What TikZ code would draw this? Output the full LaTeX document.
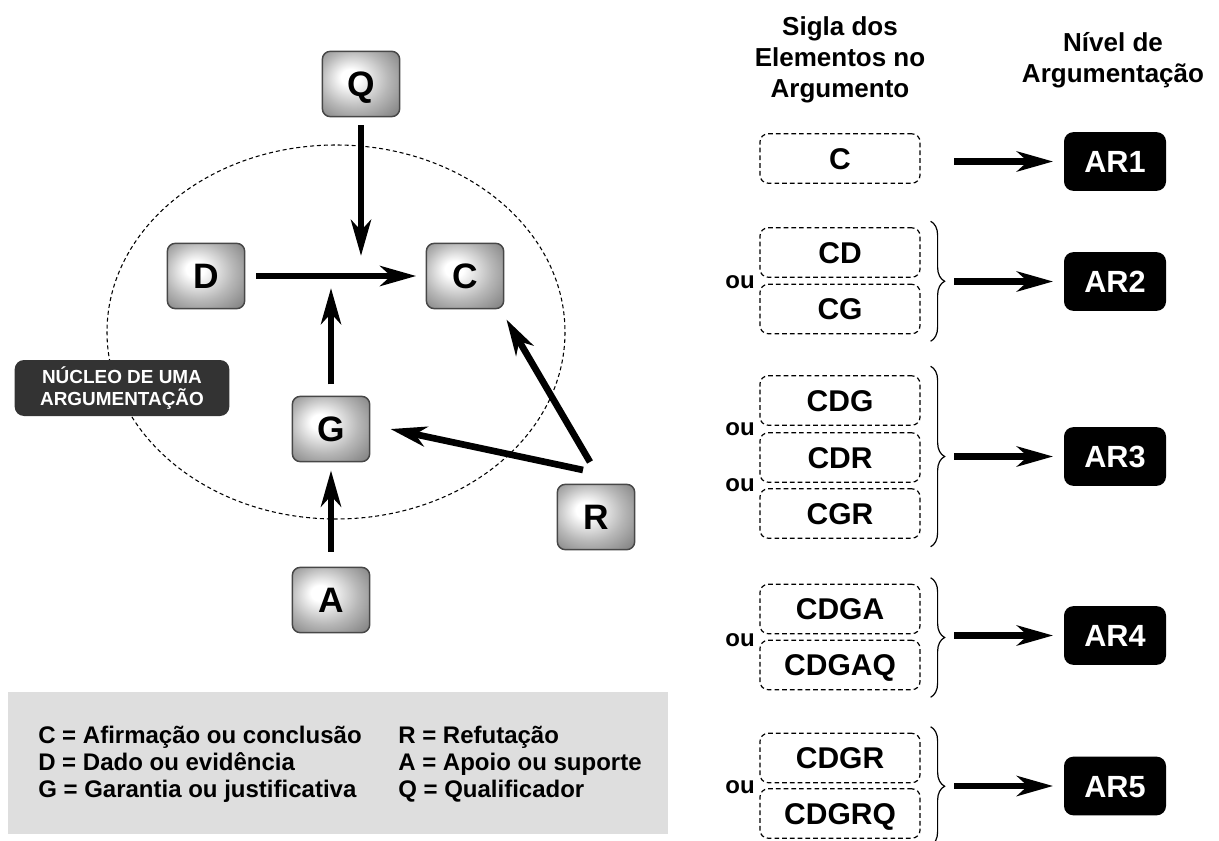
\documentclass[tikz,border=0pt]{standalone}
\usepackage{fontspec}
\setmainfont{Liberation Sans}
\usepackage{tikz}
\usetikzlibrary{arrows.meta,calc,decorations.pathreplacing}
\definecolor{nucleogray}{RGB}{51,51,51}
\definecolor{legendgray}{RGB}{222,222,222}
\pgfdeclareradialshading{botao}{\pgfpoint{-8bp}{6bp}}{color(0bp)=(white); color(6bp)=(white); color(22bp)=(black!28); color(34bp)=(black!46); color(50bp)=(black!68)}
\tikzstyle{elem} = [draw=black!72, line width=1.1pt, rounded corners=6pt, shading=botao, minimum width=58pt, minimum height=49pt, inner sep=0pt, font=\bfseries\fontsize{26.5}{26.5}\selectfont, text height=19pt, text depth=0pt]
\tikzstyle{bigarrow} = [line width=5pt, -{Stealth[length=27pt,width=15pt,inset=8pt]}]
\tikzstyle{rotulo} = [fill=nucleogray, rounded corners=7pt, minimum width=161pt, minimum height=42pt, text=white, align=center, font=\bfseries\fontsize{14.2}{16.5}\selectfont]
\tikzstyle{sigla} = [draw, line width=0.9pt, dash pattern=on 3.5pt off 2.3pt, rounded corners=6pt, minimum width=120pt, minimum height=37pt, inner sep=0pt, font=\bfseries\fontsize{22.5}{22.5}\selectfont, text height=16.1pt, text depth=0pt]
\tikzstyle{nivel} = [fill=black, rounded corners=7pt, minimum width=76.5pt, minimum height=44pt, inner sep=0pt, text=white, font=\bfseries\fontsize{23}{23}\selectfont, text height=16.5pt, text depth=0pt]
\tikzstyle{ou} = [inner sep=0pt, font=\bfseries\fontsize{18}{18}\selectfont, text height=9.4pt, text depth=0pt]
\tikzstyle{chave} = [decorate, decoration={brace, amplitude=10.5pt}, line width=0.9pt]
\tikzstyle{cabec} = [align=center, font=\bfseries\fontsize{19.5}{23.25}\selectfont]
\tikzstyle{legtext} = [anchor=base west, inner sep=0pt, font=\bfseries\fontsize{18}{18}\selectfont]

\begin{document}
\begin{tikzpicture}[x=0.75pt, y=-0.75pt]
\useasboundingbox (0,0) rectangle (1219,841);

% Core of an argument
\draw[line width=0.8pt, dash pattern=on 3pt off 2.2pt] (336,332) ellipse [x radius=229, y radius=187];
\node[rotulo] (nucleo) at (122,388) {NÚCLEO DE UMA\\ARGUMENTAÇÃO};

% Toulmin elements
\node[elem] (q) at (361,84) {Q};
\node[elem] (d) at (206,276) {D};
\node[elem] (c) at (465,276) {C};
\node[elem] (g) at (331,429) {G};
\node[elem] (r) at (596,517) {R};
\node[elem] (a) at (331,600) {A};
\coordinate (qc) at (361,256);
\coordinate (gc) at (331,288);

\draw[bigarrow, shorten <=6pt] (q) -- (qc);
\draw[bigarrow, shorten <=8pt, shorten >=7pt] (d) -- (c);
\draw[bigarrow, shorten <=8.5pt] (g) -- (gc);
\draw[bigarrow, shorten <=11pt, shorten >=6pt] (a) -- (g);
\draw[bigarrow] ([shift={(-13,-47)}]r.center) -- ([shift={(20,0)}]g.east);
\draw[bigarrow] ([shift={(-6,-55)}]r.center) -- ([shift={(2,10)}]c.south east);

% Legend
\node[fill=legendgray, minimum width=495pt, minimum height=106.5pt] (legenda) at (338,763) {};
\foreach \esq/\dir [count=\i] in {C = Afirmação ou conclusão/R = Refutação, D = Dado ou evidência/A = Apoio ou suporte, G = Garantia ou justificativa/Q = Qualificador}
{
  \node[legtext] (le\i) at (38,716.5+27*\i) {\esq};
  \node[legtext] (ld\i) at (398,716.5+27*\i) {\dir};
}

% Headers
\node[cabec] (hsigla) at (840,60) {Sigla dos\\Elementos no\\Argumento};
\node[cabec] (hnivel) at (1113,60) {Nível de\\Argumentação};

% Sets of elements
\node[sigla] (s1) at (840,158.5) {C};
\node[sigla] (s2a) at (840,252.5) {CD};
\node[sigla] (s2b) at (840,309) {CG};
\node[sigla] (s3a) at (840,400.5) {CDG};
\node[sigla] (s3b) at (840,457.5) {CDR};
\node[sigla] (s3c) at (840,513.5) {CGR};
\node[sigla] (s4a) at (840,609) {CDGA};
\node[sigla] (s4b) at (840,665) {CDGAQ};
\node[sigla] (s5a) at (840,758) {CDGR};
\node[sigla] (s5b) at (840,813.5) {CDGRQ};

\foreach \y [count=\k] in {282,429,485,640,787}
  \node[ou] (ou\k) at (740,\y) {ou};

\draw[chave] ($(s2a.north east)+(10,-6)$) -- ($(s2b.south east)+(10,7)$);
\draw[chave] ($(s3a.north east)+(10,-9)$) -- ($(s3c.south east)+(10,8)$);
\draw[chave] ($(s4a.north east)+(10,-6)$) -- ($(s4b.south east)+(10,7)$);
\draw[chave] ($(s5a.north east)+(10,-6)$) -- ($(s5b.south east)+(10,7)$);

% Argumentation levels
\foreach \n/\y in {1/161.5, 2/281.5, 3/456.5, 4/635.5, 5/786}
{
  \node[nivel] (ar\n) at (1115,\y) {AR\n};
  \coordinate (t\n) at (954,\y);
  \draw[bigarrow, shorten >=8pt] (t\n) -- (ar\n);
}
\end{tikzpicture}
\end{document}
